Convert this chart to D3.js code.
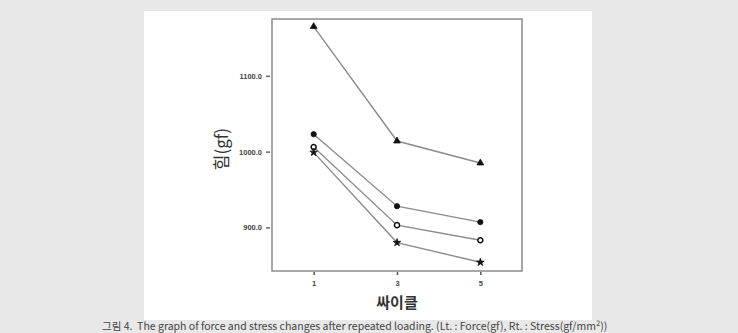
<!DOCTYPE html>
<html>
<head>
<meta charset="utf-8">
<script src="https://cdn.jsdelivr.net/npm/d3@7"></script>
<style>
  body { margin: 0; background: #e8e8e8; }
  svg { display: block; }
</style>
</head>
<body>
<script>
var width = 738,
    height = 333;

// cycles and force (gf) per series
var cycles = [1, 3, 5];
var seriesNames = ["A", "B", "C", "D"];
var valuesA = [1165, 1014, 985];
var valuesB = [1023, 928, 907];
var valuesC = [1006, 903, 883];
var valuesD = [999, 880, 854];
var yTicks = [900, 1000, 1100];
var xTicks = [1, 3, 5];
var caption = "그림 4.  The graph of force and stress changes after repeated loading. (Lt. : Force(gf), Rt. : Stress(gf/mm²))";

var series = [
  { name: seriesNames[0], values: valuesA, symbol: d3.symbolTriangle, size: 20, fill: "#111" },
  { name: seriesNames[1], values: valuesB, symbol: d3.symbolCircle, size: 22, fill: "#111" },
  { name: seriesNames[2], values: valuesC, symbol: d3.symbolCircle, size: 20, fill: "#fff" },
  { name: seriesNames[3], values: valuesD, symbol: d3.symbolStar, size: 18, fill: "#111" }
];

var svg = d3.select("body").append("svg")
    .attr("width", width)
    .attr("height", height);

// white panel
svg.append("rect")
    .attr("x", 144).attr("y", 11)
    .attr("width", 448).attr("height", 309)
    .attr("fill", "#fff");

var frame = { left: 272, top: 19, right: 522, bottom: 271 };

var x = d3.scaleLinear()
    .domain([0, 6])
    .range([frame.left, frame.right]);

var y = d3.scaleLinear()
    .domain([842.5, 1175])
    .range([frame.bottom, frame.top]);

// frame
svg.append("rect")
    .attr("x", frame.left).attr("y", frame.top)
    .attr("width", frame.right - frame.left)
    .attr("height", frame.bottom - frame.top)
    .attr("fill", "none")
    .attr("stroke", "#8a8a8a")
    .attr("stroke-width", 1.5);

// y axis
var yAxis = svg.append("g")
    .attr("transform", "translate(" + (frame.left - 2) + ",0)")
    .call(d3.axisLeft(y).tickValues(yTicks).tickFormat(d3.format(".1f")).tickSize(4).tickPadding(4));
yAxis.select(".domain").remove();
yAxis.selectAll("line").attr("stroke", "#666").attr("stroke-width", 1.5);
yAxis.selectAll("text")
    .attr("fill", "#444")
    .style("font-family", "'Liberation Sans', Arial, sans-serif")
    .style("font-size", "7.5px")
    .style("font-weight", "bold");

// x axis
var xAxis = svg.append("g")
    .attr("transform", "translate(0," + (frame.bottom + 1) + ")")
    .call(d3.axisBottom(x).tickValues(xTicks).tickFormat(d3.format("d")).tickSize(3).tickPadding(6));
xAxis.select(".domain").remove();
xAxis.selectAll("line").attr("stroke", "#555").attr("stroke-width", 1.5);
xAxis.selectAll("text")
    .attr("fill", "#444")
    .style("font-family", "'Liberation Sans', Arial, sans-serif")
    .style("font-size", "7.5px")
    .style("font-weight", "bold");

// axis titles
svg.append("text")
    .attr("x", x(3))
    .attr("y", 308)
    .attr("text-anchor", "middle")
    .attr("fill", "#333")
    .style("font-family", "'Noto Sans CJK KR', sans-serif")
    .style("font-size", "15px")
    .style("font-weight", "bold")
    .text("싸이클");

svg.append("text")
    .attr("transform", "translate(228,149) rotate(-90)")
    .attr("text-anchor", "middle")
    .attr("fill", "#333")
    .style("font-family", "'Noto Sans CJK KR', sans-serif")
    .style("font-size", "17px")
    .text("힘(gf)");

// lines
var line = d3.line()
    .x(function(d, i) { return x(cycles[i]); })
    .y(function(d) { return y(d); });

svg.selectAll(".series-line")
    .data(series)
  .enter().append("path")
    .attr("class", "series-line")
    .attr("d", function(d) { return line(d.values); })
    .attr("fill", "none")
    .attr("stroke", "#8c8c8c")
    .attr("stroke-width", 1.4);

// markers
var groups = svg.selectAll(".series-marks")
    .data(series)
  .enter().append("g")
    .attr("class", "series-marks");

groups.selectAll("path")
    .data(function(d) {
      return d.values.map(function(v, i) { return { s: d, v: v, c: cycles[i] }; });
    })
  .enter().append("path")
    .attr("transform", function(d) { return "translate(" + x(d.c) + "," + y(d.v) + ")"; })
    .attr("d", function(d) { return d3.symbol().type(d.s.symbol).size(d.s.size)(); })
    .attr("fill", function(d) { return d.s.fill; })
    .attr("stroke", "#111")
    .attr("stroke-width", function(d) { return d.s.fill === "#fff" ? 1.5 : 0.8; });

// caption
svg.append("text")
    .attr("x", 102)
    .attr("y", 330)
    .attr("fill", "#444")
    .style("font-family", "'Noto Sans CJK KR', sans-serif")
    .style("font-size", "10.5px")
    .attr("xml:space", "preserve")
    .text(caption);
</script>
</body>
</html>
